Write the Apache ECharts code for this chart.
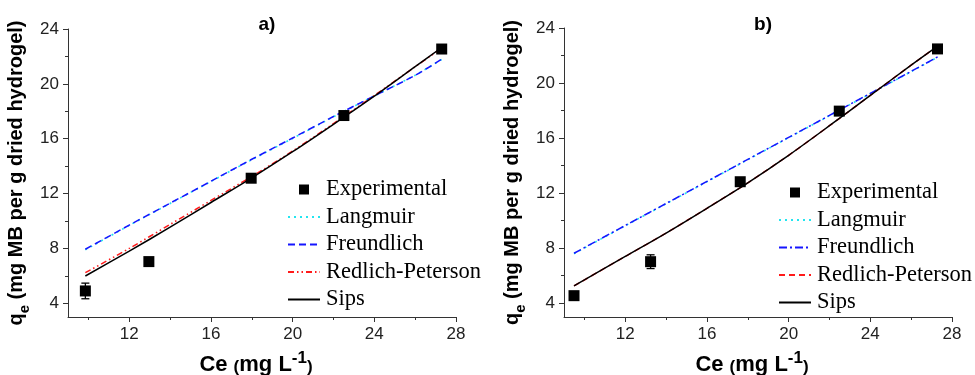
<!DOCTYPE html>
<html>
<head>
<meta charset="utf-8">
<script src="https://cdn.jsdelivr.net/npm/echarts@6/dist/echarts.min.js"></script>
<style>
  html, body { margin: 0; padding: 0; background: #fff; }
  #chart { width: 975px; height: 375px; }
</style>
</head>
<body>
<div id="chart"></div>
<script>
// Panel a) — experimental isotherm points and fitted models
const ceA      = [9.85, 12.96, 17.97, 22.51, 27.30];
const qeA      = [4.90, 7.04, 13.12, 17.69, 22.54];
const errA     = [0.57, 0, 0, 0, 0];
const fitCeA   = [9.85, 12, 14, 16, 18, 20, 22, 24, 26, 27.3];
const langmuirA    = [7.90, 9.68, 11.28, 12.88, 14.47, 16.02, 17.60, 19.12, 20.63, 21.78];
const freundlichA  = [7.94, 9.70, 11.30, 12.90, 14.50, 16.05, 17.62, 19.12, 20.62, 21.80];
const redlichA     = [6.23, 8.00, 9.75, 11.50, 13.25, 15.10, 17.10, 19.15, 21.25, 22.60];
const sipsA        = [5.99, 7.80, 9.55, 11.35, 13.15, 15.05, 17.05, 19.10, 21.25, 22.65];

// Panel b)
const ceB      = [9.49, 13.24, 17.63, 22.48, 27.29];
const qeB      = [4.55, 7.02, 12.83, 17.96, 22.48];
const errB     = [0, 0.50, 0, 0, 0];
const fitCeB   = [9.49, 12, 14, 16, 18, 20, 22, 24, 26, 27.3];
const langmuirB    = [7.60, 9.63, 11.23, 12.83, 14.43, 16.03, 17.63, 19.23, 20.83, 21.88];
const freundlichB  = [7.63, 9.65, 11.25, 12.85, 14.45, 16.05, 17.65, 19.25, 20.85, 21.90];
const redlichB     = [5.26, 7.40, 9.10, 10.90, 12.75, 14.75, 16.90, 19.10, 21.30, 22.68];
const sipsB        = [5.26, 7.40, 9.10, 10.90, 12.75, 14.75, 16.90, 19.10, 21.30, 22.68];

// Axis ticks
const xMajor = [12, 16, 20, 24, 28];
const xMinor = [10, 14, 18, 22, 26];
const yMajor = [4, 8, 12, 16, 20, 24];
const yMinor = [6, 10, 14, 18, 22];
const xRange = [9, 28];
const yRange = [3, 24];

const modelNames = ['Langmuir', 'Freundlich', 'Redlich-Peterson', 'Sips'];
const panelTitles = ['a)', 'b)'];

const AXIS_COLOR = '#333';
const SANS = 'Liberation Sans, Arial, sans-serif';
const SERIF = 'Liberation Serif, Times New Roman, serif';

function pairs(xs, ys) { return xs.map((x, i) => [x, ys[i]]); }

function xAxesFor(grid) {
  return [
    {
      type: 'value', gridIndex: grid, position: 'bottom',
      min: xRange[0], max: xRange[1],
      axisLine: { show: true, lineStyle: { color: AXIS_COLOR, width: 1 } },
      axisTick: { show: true, customValues: xMajor, length: 5, lineStyle: { color: AXIS_COLOR } },
      axisLabel: { customValues: xMajor, margin: 9, fontFamily: SANS, fontSize: 17, color: '#222' },
      splitLine: { show: false },
      name: '{b|Ce }{p|(}{b|mg L}{sup|-1}{p|)}',
      nameLocation: 'middle', nameGap: 33,
      nameTextStyle: {
        fontFamily: SANS, fontWeight: 'bold', color: '#000',
        padding: [0, 12, 0, 0],
        rich: {
          b: { fontFamily: SANS, fontWeight: 'bold', fontSize: 22, color: '#000', lineHeight: 26, verticalAlign: 'bottom' },
          p: { fontFamily: SANS, fontWeight: 'bold', fontSize: 17, color: '#000', lineHeight: 26, verticalAlign: 'bottom' },
          sup: { fontFamily: SANS, fontWeight: 'bold', fontSize: 17, color: '#000', lineHeight: 26, verticalAlign: 'top' }
        }
      }
    },
    {
      type: 'value', gridIndex: grid, position: 'bottom',
      min: xRange[0], max: xRange[1],
      axisLine: { show: false },
      axisTick: { show: true, customValues: xMinor, length: 3, lineStyle: { color: AXIS_COLOR } },
      axisLabel: { show: false },
      splitLine: { show: false }
    }
  ];
}

function yAxesFor(grid) {
  return [
    {
      type: 'value', gridIndex: grid, position: 'left',
      min: yRange[0], max: yRange[1],
      axisLine: { show: true, lineStyle: { color: AXIS_COLOR, width: 1 } },
      axisTick: { show: true, customValues: yMajor, length: 5, lineStyle: { color: AXIS_COLOR } },
      axisLabel: { customValues: yMajor, margin: 9, fontFamily: SANS, fontSize: 17, color: '#222' },
      splitLine: { show: false },
      name: '{b|q}{s|e}{b| (mg MB per g dried hydrogel)}',
      nameLocation: 'middle', nameGap: 36, nameRotate: 90,
      nameTextStyle: {
        rich: {
          b: { fontFamily: SANS, fontWeight: 'bold', fontSize: 20, color: '#000', lineHeight: 26, verticalAlign: 'top' },
          s: { fontFamily: SANS, fontWeight: 'bold', fontSize: 15, color: '#000', lineHeight: 26, verticalAlign: 'bottom' }
        }
      }
    },
    {
      type: 'value', gridIndex: grid, position: 'left',
      min: yRange[0], max: yRange[1],
      axisLine: { show: false },
      axisTick: { show: true, customValues: yMinor, length: 3, lineStyle: { color: AXIS_COLOR } },
      axisLabel: { show: false },
      splitLine: { show: false }
    }
  ];
}

function renderErrorBar(params, api) {
  const x = api.value(0), y = api.value(1), e = api.value(2);
  if (!e) return null;
  const top = api.coord([x, y + e]);
  const bot = api.coord([x, y - e]);
  const cap = 4;
  const st = { stroke: '#000', lineWidth: 1.3 };
  return {
    type: 'group',
    children: [
      { type: 'line', shape: { x1: top[0], y1: top[1], x2: bot[0], y2: bot[1] }, style: st },
      { type: 'line', shape: { x1: top[0] - cap, y1: top[1], x2: top[0] + cap, y2: top[1] }, style: st },
      { type: 'line', shape: { x1: bot[0] - cap, y1: bot[1], x2: bot[0] + cap, y2: bot[1] }, style: st }
    ]
  };
}

const MODEL_COLORS = ['#22e5f0', '#1515ff', '#ff1a1a', '#000'];
const MODEL_WIDTHS = [1.6, 1.5, 1.5, 1.5];

function panelSeries(panel, ce, qe, err, fitCe, curves, dashes) {
  const xi = panel * 2, yi = panel * 2;
  const tag = panel === 0 ? 'a:' : 'b:';
  const list = [];
  list.push({
    type: 'custom', xAxisIndex: xi, yAxisIndex: yi, z: 4,
    data: ce.map((x, i) => [x, qe[i], err[i]]),
    renderItem: renderErrorBar, silent: true
  });
  curves.forEach((ys, k) => {
    list.push({
      name: tag + modelNames[k], type: 'line', xAxisIndex: xi, yAxisIndex: yi,
      data: pairs(fitCe, ys), smooth: 0.3, symbol: 'none', z: 2 + k * 0.1,
      lineStyle: { color: MODEL_COLORS[k], width: MODEL_WIDTHS[k], type: dashes[k] },
      itemStyle: { color: MODEL_COLORS[k] }
    });
  });
  list.push({
    name: tag + 'Experimental', type: 'scatter', xAxisIndex: xi, yAxisIndex: yi, z: 5,
    data: pairs(ce, qe), symbol: 'rect', symbolSize: 11,
    itemStyle: { color: '#000', opacity: 1 }
  });
  return list;
}

function legendFor(panel, left, top) {
  const tag = panel === 0 ? 'a:' : 'b:';
  const items = [{ name: tag + 'Experimental', icon: 'path://M0,0H10V10H0Z', itemStyle: { color: '#000', opacity: 1 } }]
    .concat(modelNames.map(n => ({ name: tag + n, itemStyle: { opacity: 0 } })));
  return {
    orient: 'vertical', left: left, top: top,
    itemWidth: 32, itemHeight: 10, itemGap: 4.5,
    symbolKeepAspect: true,
    selectedMode: false,
    data: items,
    formatter: name => name.slice(2),
    textStyle: { fontFamily: SERIF, fontSize: 22.5, color: '#000', padding: [0, 0, 0, 1] }
  };
}

const chart = echarts.init(document.getElementById('chart'), null, { renderer: 'canvas' });
chart.setOption({
  animation: false,
  backgroundColor: '#fff',
  title: [
    { text: panelTitles[0], left: 262, top: 10, textAlign: 'center',
      textStyle: { fontFamily: SANS, fontWeight: 'bold', fontSize: 19, color: '#000' } },
    { text: panelTitles[1], left: 758, top: 10, textAlign: 'center',
      textStyle: { fontFamily: SANS, fontWeight: 'bold', fontSize: 19, color: '#000' } }
  ],
  grid: [
    { left: 68, top: 29, width: 388, height: 288, outerBoundsMode: 'none', containLabel: false },
    { left: 564, top: 28, width: 388, height: 289, outerBoundsMode: 'none', containLabel: false }
  ],
  xAxis: xAxesFor(0).concat(xAxesFor(1)),
  yAxis: yAxesFor(0).concat(yAxesFor(1)),
  legend: [legendFor(0, 282, 173), legendFor(1, 773, 176)],
  series: [].concat(
    panelSeries(0, ceA, qeA, errA, fitCeA,
      [langmuirA, freundlichA, redlichA, sipsA],
      [[2, 4], [7, 4], [6, 3, 1.5, 3, 1.5, 3], 'solid']),
    panelSeries(1, ceB, qeB, errB, fitCeB,
      [langmuirB, freundlichB, redlichB, sipsB],
      [[2, 4], [8, 3, 2, 3], [6, 4], 'solid'])
  )
});
</script>
</body>
</html>
